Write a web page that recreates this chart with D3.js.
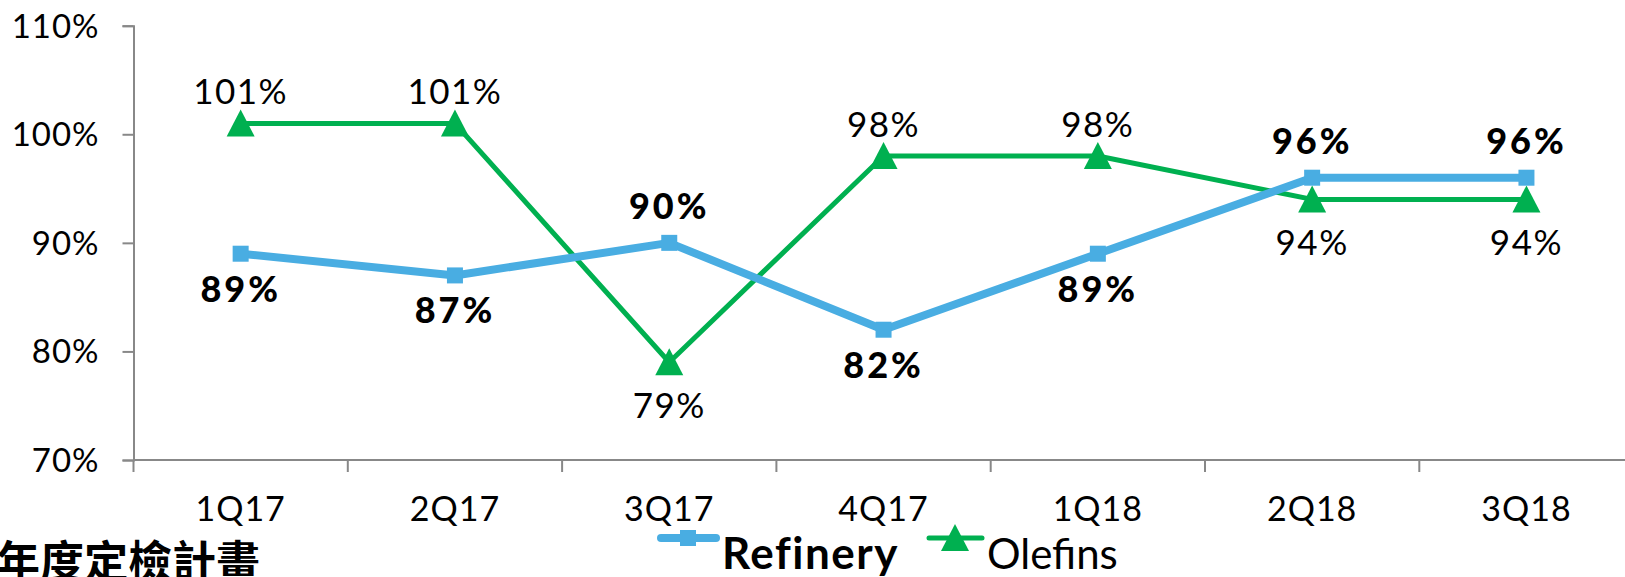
<!DOCTYPE html>
<html>
<head>
<meta charset="utf-8">
<script src="https://cdn.jsdelivr.net/npm/d3@7"></script>
<style>
  html, body { margin: 0; padding: 0; background: #fff; overflow: hidden; }
  svg { display: block; font-family: Lato, "Noto Sans", sans-serif; }
</style>
</head>
<body>
<svg id="chart"></svg>
<script>
// quarters + utilisation rates (%)
var quarters = ["1Q17", "2Q17", "3Q17", "4Q17", "1Q18", "2Q18", "3Q18"];
var refinery = [89, 87, 90, 82, 89, 96, 96];
var olefins = [101, 101, 79, 98, 98, 94, 94];
// where each data label sits relative to its point
var refineryLabelPos = ["below", "below", "above", "below", "below", "above", "above"];
var olefinsLabelPos = ["above", "above", "below", "above", "above", "below", "below"];
var yTicks = [70, 80, 90, 100, 110];
var seriesNames = ["Refinery", "Olefins"];
var title = "年度定檢計畫";

var width = 1625, height = 577;
var blue = "#49ade2", green = "#00b050", axisGrey = "#888888";

var svg = d3.select("#chart").attr("width", width).attr("height", height);

var x = d3.scaleBand().domain(quarters).range([133.5, 133.5 + 7 * 214.3]);
var y = d3.scaleLinear().domain([70, 110]).range([460, 25.7]);
var cx = function(q) { return x(q) + x.bandwidth() / 2; };

// y axis
var yAxis = svg.append("g").attr("transform", "translate(133.5,0)")
  .call(d3.axisLeft(y).tickValues(yTicks).tickSize(11).tickPadding(23)
    .tickFormat(function(d) { return d + "%"; }));
yAxis.select(".domain").attr("stroke", axisGrey).attr("stroke-width", 2);
yAxis.selectAll(".tick line").attr("stroke", axisGrey).attr("stroke-width", 2);
yAxis.selectAll(".tick text").attr("font-size", 33).attr("font-family", "Lato")
  .attr("letter-spacing", 1).attr("fill", "#000").attr("dy", "0.35em");

// x axis: ticks sit on the category boundaries
var xAxis = svg.append("g").attr("transform", "translate(0,460)");
xAxis.append("line").attr("x1", x.range()[0]).attr("x2", x.range()[1])
  .attr("stroke", axisGrey).attr("stroke-width", 2);
xAxis.selectAll("line.tk").data(quarters).enter().append("line").attr("class", "tk")
  .attr("x1", function(d) { return x(d); }).attr("x2", function(d) { return x(d); })
  .attr("y1", 0).attr("y2", 12).attr("stroke", axisGrey).attr("stroke-width", 2);
xAxis.selectAll("text").data(quarters).enter().append("text")
  .attr("x", cx).attr("y", 61).attr("text-anchor", "middle")
  .attr("font-size", 34).attr("letter-spacing", 1).text(function(d) { return d; });

var line = d3.line().x(function(d, i) { return cx(quarters[i]); }).y(function(d) { return y(d); });

// olefins
svg.append("path").datum(olefins).attr("d", line).attr("fill", "none")
  .attr("stroke", green).attr("stroke-width", 5).attr("stroke-linejoin", "round");
svg.selectAll("path.tri").data(olefins).enter().append("path").attr("class", "tri")
  .attr("d", "M0,-14L14,13L-14,13Z").attr("fill", green)
  .attr("transform", function(d, i) { return "translate(" + cx(quarters[i]) + "," + y(d) + ")"; });

// refinery
svg.append("path").datum(refinery).attr("d", line).attr("fill", "none")
  .attr("stroke", blue).attr("stroke-width", 8).attr("stroke-linejoin", "round");
svg.selectAll("rect.sq").data(refinery).enter().append("rect").attr("class", "sq")
  .attr("x", function(d, i) { return cx(quarters[i]) - 8; })
  .attr("y", function(d) { return y(d) - 8; })
  .attr("width", 16).attr("height", 16).attr("fill", blue);

// data labels
svg.selectAll("text.ol").data(olefins).enter().append("text").attr("class", "ol")
  .attr("x", function(d, i) { return cx(quarters[i]); })
  .attr("y", function(d, i) { return y(d) + (olefinsLabelPos[i] == "above" ? -19 : 56); })
  .attr("text-anchor", "middle").attr("font-size", 35).attr("letter-spacing", 1.5)
  .text(function(d) { return d + "%"; });
svg.selectAll("text.rf").data(refinery).enter().append("text").attr("class", "rf")
  .attr("x", function(d, i) { return cx(quarters[i]); })
  .attr("y", function(d, i) { return y(d) + (refineryLabelPos[i] == "above" ? -24 : 48); })
  .attr("text-anchor", "middle").attr("font-size", 36).attr("font-weight", 900)
  .attr("letter-spacing", 3)
  .text(function(d) { return d + "%"; });

// legend
var leg = svg.append("g");
leg.append("line").attr("x1", 661).attr("x2", 716).attr("y1", 538).attr("y2", 538)
  .attr("stroke", blue).attr("stroke-width", 8).attr("stroke-linecap", "round");
leg.append("rect").attr("x", 680).attr("y", 530).attr("width", 16).attr("height", 16).attr("fill", blue);
leg.append("text").attr("x", 722).attr("y", 569).attr("font-size", 44).attr("font-weight", "bold")
  .attr("letter-spacing", 1.5).text(seriesNames[0]);
leg.append("line").attr("x1", 929).attr("x2", 982).attr("y1", 538).attr("y2", 538)
  .attr("stroke", green).attr("stroke-width", 5).attr("stroke-linecap", "round");
leg.append("path").attr("d", "M955,524L969,551L941,551Z").attr("fill", green);
leg.append("text").attr("x", 987).attr("y", 569).attr("font-size", 42)
  .text(seriesNames[1]);

// slide heading peeking in at the bottom
svg.append("text").attr("x", -4).attr("y", 578).attr("font-size", 44).attr("font-weight", "bold")
  .attr("font-family", "'Noto Sans CJK TC', sans-serif").text(title);
</script>
</body>
</html>
